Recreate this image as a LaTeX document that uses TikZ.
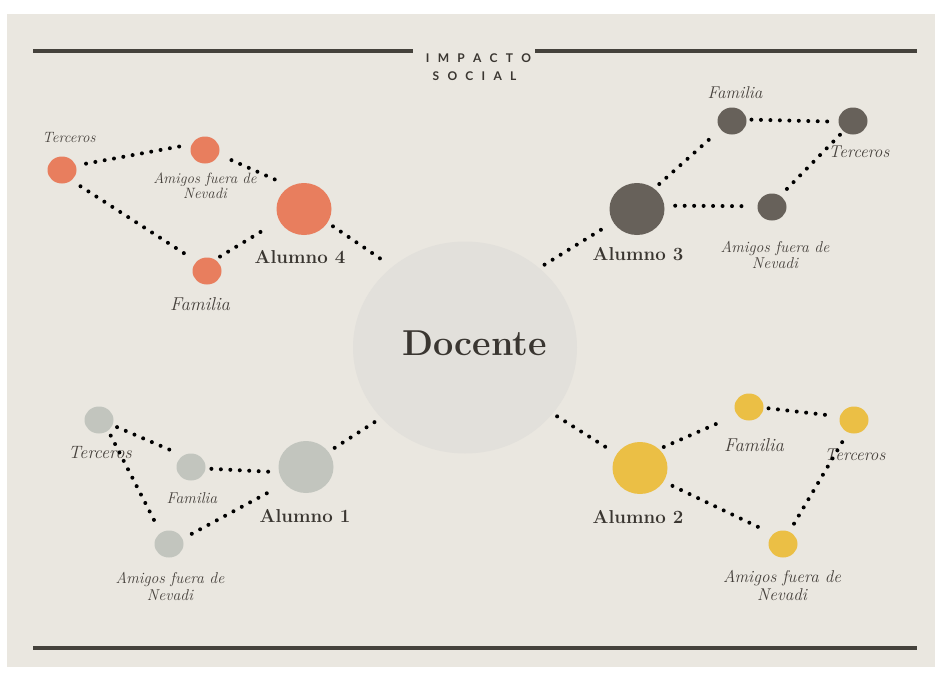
\documentclass[tikz,border=0pt]{standalone}
\usepackage{fontspec}
\newfontfamily\latofont{Lato}
\usetikzlibrary{shapes.geometric}
\definecolor{bg}{HTML}{EAE7E0}
\definecolor{dcfill}{HTML}{E2E0DB}
\definecolor{ora}{HTML}{E87E5E}
\definecolor{dark}{HTML}{67615A}
\definecolor{sage}{HTML}{C2C5BE}
\definecolor{yel}{HTML}{EBBF45}
\definecolor{ink}{HTML}{3A3631}
\definecolor{lab}{HTML}{45403B}
\definecolor{rulec}{HTML}{45423C}
\newcommand\itsz[1]{\fontsize{#1}{#1}\selectfont\itshape}
\newcommand\ls{\hspace{6.2pt}}
\begin{document}
\begin{tikzpicture}[x=0.75pt,y=-0.75pt,
  big/.style={ellipse, minimum width=41.25pt, minimum height=39pt, inner sep=0pt, outer sep=0pt},
  small/.style={ellipse, minimum width=21.75pt, minimum height=20.25pt, inner sep=0pt, outer sep=0pt},
  dots/.style={line width=3pt, line cap=round, dash pattern=on 0pt off 7.1pt, black},
  lbl/.style={text=lab, inner sep=0pt, anchor=base},
  alum/.style={font=\bfseries\fontsize{14}{15}\selectfont, text=ink, inner sep=0pt, anchor=base},
  rulel/.style={draw=rulec, line width=2.3pt},
  ttl/.style={font=\latofont\bfseries\fontsize{9}{10}\selectfont, text=ink, inner sep=0pt, anchor=base}
]
\useasboundingbox (0,0) rectangle (935,675);
\fill[white] (0,0) rectangle (935,675);
\fill[bg] (7,14) rectangle (935,667);

% title and rules
\node[ttl] (ti1) at (478.5,62) {I\ls M\ls P\ls A\ls C\ls T\ls O};
\node[ttl] (ti2) at (474.5,80) {S\ls O\ls C\ls I\ls A\ls L};
\draw[rulel] (33,51) -- (413,51);
\draw[rulel] (535,51) -- (917,51);
\draw[rulel] (33,648) -- (917,648);

% central node
\node[ellipse, fill=dcfill, minimum width=168pt, minimum height=159pt, inner sep=0pt, outer sep=0pt] (dc) at (465,347.5) {};
\node[font=\bfseries\fontsize{27}{29}\selectfont, text=ink, inner sep=0pt, anchor=base] (dct) at (474.5,355) {Docente};

% cluster 4 (orange)
\node[big, fill=ora] (a4) at (304,209) {};
\node[small, fill=ora] (am4) at (205,150) {};
\node[small, fill=ora] (t4) at (62,170) {};
\node[small, fill=ora] (f4) at (207,271) {};
\node[lbl, font=\itsz{11.2}] (t4l) at (69,142) {Terceros};
\node[lbl, font=\itsz{11.2}] (am4l) at (205,183) {Amigos fuera de};
\node[lbl, font=\itsz{11.2}] (am4m) at (205,198) {Nevadi};
\node[alum] (a4l) at (300,263) {Alumno 4};
\node[lbl, font=\itsz{14}] (f4l) at (200,310) {Familia};

% cluster 3 (dark)
\node[big, fill=dark] (a3) at (637,209) {};
\node[small, fill=dark] (f3) at (732,121) {};
\node[small, fill=dark] (t3) at (853,121) {};
\node[small, fill=dark] (am3) at (772,207) {};
\node[lbl, font=\itsz{12.8}] (f3l) at (735,98) {Familia};
\node[lbl, font=\itsz{12.8}] (t3l) at (859,157) {Terceros};
\node[alum] (a3l) at (638,260) {Alumno 3};
\node[lbl, font=\itsz{11.8}] (am3l) at (775,252) {Amigos fuera de};
\node[lbl, font=\itsz{11.8}] (am3m) at (775,268) {Nevadi};

% cluster 1 (sage)
\node[big, fill=sage] (a1) at (306,467) {};
\node[small, fill=sage] (t1) at (99,420) {};
\node[small, fill=sage] (f1) at (191,467) {};
\node[small, fill=sage] (am1) at (169,544) {};
\node[lbl, font=\itsz{13.4}] (t1l) at (100,458) {Terceros};
\node[lbl, font=\itsz{11.8}] (f1l) at (192,503) {Familia};
\node[alum] (a1l) at (305,522) {Alumno 1};
\node[lbl, font=\itsz{11.8}] (am1l) at (170,583) {Amigos fuera de};
\node[lbl, font=\itsz{11.8}] (am1m) at (170,600) {Nevadi};

% cluster 2 (yellow)
\node[big, fill=yel] (a2) at (640,468) {};
\node[small, fill=yel] (f2) at (749,407) {};
\node[small, fill=yel] (t2) at (854,420) {};
\node[small, fill=yel] (am2) at (783,544) {};
\node[lbl, font=\itsz{14}] (f2l) at (754,451) {Familia};
\node[lbl, font=\itsz{12.8}] (t2l) at (855,460) {Terceros};
\node[alum] (a2l) at (638,523) {Alumno 2};
\node[lbl, font=\itsz{12.8}] (am2l) at (782,582) {Amigos fuera de};
\node[lbl, font=\itsz{12.8}] (am2m) at (782,600) {Nevadi};

% connectors cluster 4
\draw[dots, shorten <=7.9pt, shorten >=3.8pt] (t4.18) -- (am4.156);
\draw[dots, shorten <=10.5pt, shorten >=7pt] (am4.-18) -- (a4.121);
\draw[dots, shorten <=8.2pt, shorten >=7.5pt] (t4.-48) -- (f4.137);
\draw[dots, shorten <=4.5pt, shorten >=9.6pt] (f4.55) -- (a4.205);
\draw[dots, shorten <=5pt, shorten >=5pt] (a4.-30) -- (dc.132);

% connectors cluster 3
\draw[dots, shorten <=4.8pt, shorten >=5.6pt] (dc.47.5) -- (a3.209.5);
\draw[dots, shorten <=5.2pt, shorten >=6pt] (a3.50) -- (f3.216);
\draw[dots, shorten <=3.8pt, shorten >=3.8pt] (f3.6) -- (t3.183);
\draw[dots, shorten <=3.8pt, shorten >=2.2pt] (t3.227) -- (am3.54.5);
\draw[dots, shorten <=8.2pt, shorten >=6.8pt] (a3.7.5) -- (am3.177.5);

% connectors cluster 1
\draw[dots, shorten <=6pt, shorten >=0.5pt] (dc.220.5) -- (a1.34);
\draw[dots, shorten <=3.8pt, shorten >=5.7pt] (t1.-21) -- (f1.124);
\draw[dots, shorten <=4.5pt, shorten >=2.7pt] (f1.-6) -- (a1.191);
\draw[dots, shorten <=4.3pt, shorten >=9.3pt] (t1.-49) -- (am1.127);
\draw[dots, shorten <=8pt, shorten >=11.2pt] (am1.21) -- (a1.218);

% connectors cluster 2
\draw[dots, shorten <=4pt, shorten >=5pt] (dc.-37.6) -- (a2.149.6);
\draw[dots, shorten <=4pt, shorten >=11pt] (a2.45) -- (f2.213.7);
\draw[dots, shorten <=3.8pt, shorten >=5.7pt] (f2.-3) -- (t2.166.6);
\draw[dots, shorten <=8.6pt, shorten >=4.5pt] (t2.244) -- (am2.63);
\draw[dots, shorten <=7.5pt, shorten >=8.6pt] (a2.-30.7) -- (am2.135);
\end{tikzpicture}
\end{document}
